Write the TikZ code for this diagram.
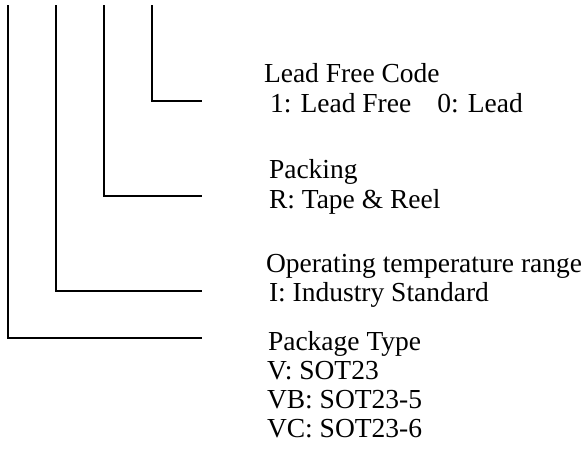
\documentclass[tikz,border=0pt]{standalone}
\usepackage{fontspec}
\setmainfont{Liberation Serif}
\begin{document}
\begin{tikzpicture}[x=1pt,y=1pt,
  lead/.style={line width=1.7pt,line cap=rect},
  txt/.style={anchor=base west,inner sep=0pt,outer sep=0pt,font=\fontsize{27.5}{33}\selectfont}]
\useasboundingbox (0,0) rectangle (588,-454);
% top ends of the four leads
\coordinate (t1) at (8,-6);
\coordinate (t2) at (56,-6);
\coordinate (t3) at (104,-6);
\coordinate (t4) at (152,-6);
% free ends of the horizontals
\coordinate (e1) at (201,-338);
\coordinate (e2) at (201,-291);
\coordinate (e3) at (201,-196);
\coordinate (e4) at (201,-101);
\draw[lead] (t1) |- (e1);
\draw[lead] (t2) |- (e2);
\draw[lead] (t3) |- (e3);
\draw[lead] (t4) |- (e4);
% texts
\node[txt] (lf1) at (264,-83) {Lead Free Code};
\node[txt] (lf2) at (270,-113) {1: Lead Free\hspace{26pt}0: Lead};
\node[txt] (pk1) at (269,-179) {Packing};
\node[txt] (pk2) at (269,-209) {R: Tape \& Reel};
\node[txt] (op1) at (266,-272) {Operating temperature range};
\node[txt] (op2) at (269,-301) {I: Industry Standard};
\node[txt] (pt1) at (268,-350) {Package Type};
\node[txt] (pt2) at (267,-379) {V: SOT23};
\node[txt] (pt3) at (267,-408) {VB: SOT23-5};
\node[txt] (pt4) at (267,-437) {VC: SOT23-6};
\end{tikzpicture}
\end{document}
